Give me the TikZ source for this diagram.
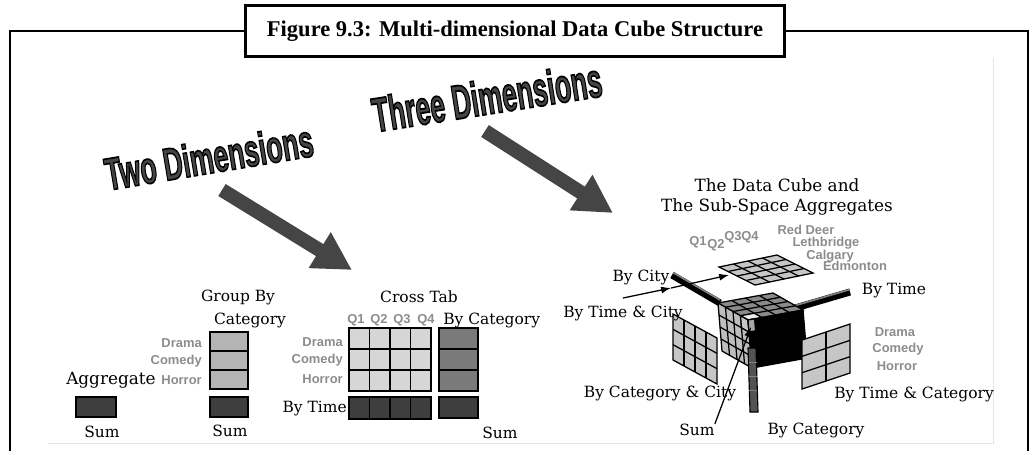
\documentclass[tikz,border=0pt]{standalone}
\usepackage{fontspec}
\setmainfont{DejaVu Serif}
\newfontfamily\lsans{Liberation Sans}
\newfontfamily\capfont{Liberation Serif}
\usepackage{tikz}
\usetikzlibrary{arrows.meta}
\definecolor{wordgray}{HTML}{454545}
\definecolor{dimgray}{HTML}{8C8C8C}
\definecolor{gbgray}{HTML}{B4B4B4}
\definecolor{ctgray}{HTML}{D6D6D6}
\definecolor{catgray}{HTML}{7A7A7A}
\definecolor{sumgray}{HTML}{3E3E3E}
\definecolor{planegray}{HTML}{C6C6C6}
\definecolor{topgray}{HTML}{8A8A8A}
\definecolor{sidegray}{HTML}{BEBEBE}
% outlined lettering: fill with the text colour, stroke in black
\newcommand{\outlined}[1]{\special{pdf:literal direct 0 G 0.7 w 2 Tr}#1\special{pdf:literal direct 0 Tr}}
\tikzset{
  frame/.style={line width=1.8pt},
  lbl/.style={font=\fontsize{11}{12}\selectfont, inner sep=0pt},
  biglbl/.style={font=\fontsize{12}{14.2}\selectfont, inner sep=0pt},
  dimlbl/.style={font=\lsans\bfseries\fontsize{9.2}{10}\selectfont, text=dimgray, inner sep=0pt},
  bigword/.style={font=\lsans\bfseries\fontsize{19}{22}\selectfont, text=wordgray, inner sep=0pt},
  fatarrow/.style={draw=wordgray, line width=10pt, -{Triangle[length=27pt 0, width=28pt 0]}},
  cell/.style={draw=black, line width=1.3pt},
  gridline/.style={draw=black, line width=0.9pt},
  ptr/.style={line width=0.9pt, -{Latex[length=7pt 0, width=5pt 0]}},
}

\begin{document}
\begin{tikzpicture}[x=0.025cm, y=-0.025cm]
  \useasboundingbox (0,0) rectangle (1033,450);
  % frame and caption
  \draw[gray!20] (993,58) -- (993,443) -- (48,443);
  \node[draw, frame, fill=white, minimum width=383pt, minimum height=36pt,
        font=\capfont\bfseries\fontsize{16}{18}\selectfont] (title) at (515,31)
        {Figure 9.3: Multi-dimensional Data Cube Structure};
  \draw[frame] (10,455) |- (title.west);
  \draw[frame] (title.east) -| (1028,455);

  % headings and fat arrows
  \node[bigword, rotate=9.5, yscale=1.7] (twodim) at (209,157) {\outlined{Two Dimensions}};
  \node[bigword, rotate=9, yscale=1.8] (threedim) at (487,97) {\outlined{Three Dimensions}};
  \coordinate (twotail) at (222,190);
  \coordinate (twotip) at (352,270);
  \coordinate (threetail) at (485,131);
  \coordinate (threetip) at (613,213);
  \draw[fatarrow] (twotail) -- (twotip);
  \draw[fatarrow] (threetail) -- (threetip);

  % aggregate
  \draw[cell, fill=sumgray] (76,397) rectangle (116,417);
  \node[lbl] (sumagg) at (102,432) {Sum};

  % group by
  \node[lbl] (grpby) at (238,297) {Group By};
  \node[lbl] (grpcat) at (250,320) {Category};
  \foreach \r in {0,1,2}
    \draw[cell, fill=gbgray] (210,{332+19*\r}) rectangle +(38,19);
  \draw[cell, fill=sumgray] (210,397) rectangle (248,417);
  \node[dimlbl, anchor=east] (gbdrama) at (202,343) {Drama};
  \node[dimlbl, anchor=east] (gbcomedy) at (202,361) {Comedy};
  \node[dimlbl, anchor=east] (gbhorror) at (202,380) {Horror};
  \node[lbl] (sumgb) at (230,431) {Sum};
  \node[biglbl] (aggr) at (111,380) {Aggregate};

  % cross tab
  \node[lbl] (crosstab) at (419,297) {Cross Tab};
  \foreach \q/\x in {1/356,2/379,3/402,4/426}
    \node[dimlbl] (q\q) at (\x,320) {Q\q};
  \foreach \c in {0,...,3} {
    \foreach \r in {0,1,2}
      \draw[cell, fill=ctgray] ({349+20.5*\c},{328+21*\r}) rectangle +(20.5,21);
    \draw[cell, fill=sumgray] ({349+20.5*\c},397) rectangle +(20.5,22);
  }
  \node[dimlbl, anchor=east] (ctdrama) at (343,342) {Drama};
  \node[dimlbl, anchor=east] (ctcomedy) at (343,360) {Comedy};
  \node[dimlbl, anchor=east] (cthorror) at (343,379) {Horror};
  \node[lbl, anchor=east] (bytime) at (347,409) {By Time};
  \foreach \r in {0,1,2}
    \draw[cell, fill=catgray] (439,{328+21*\r}) rectangle +(39,21);
  \draw[cell, fill=sumgray] (439,397) rectangle (478,418);
  \node[lbl, anchor=west] (bycat) at (443,320) {By Category};
  \node[lbl] (sumct) at (500,433) {Sum};

  % data cube labels
  \node[biglbl, align=center] (cubetitle) at (777,197) {The Data Cube and\\The Sub-Space Aggregates};
  \node[dimlbl] (cq1) at (698,242) {Q1};
  \node[dimlbl] (cq2) at (716,245) {Q2};
  \node[dimlbl] (cq3) at (733,237) {Q3};
  \node[dimlbl] (cq4) at (750,237) {Q4};
  \node[dimlbl] (reddeer) at (806,230) {Red Deer};
  \node[dimlbl] (lethbridge) at (826,243) {Lethbridge};
  \node[dimlbl] (calgary) at (830,256) {Calgary};
  \node[dimlbl] (edmonton) at (855,266) {Edmonton};
  \node[dimlbl] (cdrama) at (895,332) {Drama};
  \node[dimlbl] (ccomedy) at (898,349) {Comedy};
  \node[dimlbl] (chorror) at (897,366) {Horror};

  % sticks behind the cube
  \draw[line width=5pt] (672,275) -- (720,303);
  \draw[gray, line width=1.2pt] (673,272.5) -- (720,300);
  \draw[line width=5pt] (785,311) -- (850,292);
  \draw[gray, line width=1.2pt] (785,308.5) -- (850,289.5);

  % sub-space planes (unit vectors given in cm, 1px = 0.025cm)
  \begin{scope}[shift={(719,267)}, x={(1.45cm,0.30cm)}, y={(0.90cm,-0.45cm)}]
    \filldraw[fill=planegray, gridline] (0,0) -- (1,0) -- (1,1) -- (0,1) -- cycle;
    \foreach \i in {1,2,3} {
      \draw[gridline] (\i/4,0) -- (\i/4,1);
      \draw[gridline] (0,\i/4) -- (1,\i/4);
    }
  \end{scope}
  \begin{scope}[shift={(673,314)}, x={(1.10cm,-0.60cm)}, y={(0cm,-1.15cm)}]
    \filldraw[fill=planegray, gridline] (0,0) -- (1,0) -- (1,1) -- (0,1) -- cycle;
    \foreach \i in {1,2,3} \draw[gridline] (\i/4,0) -- (\i/4,1);
    \foreach \i in {1,2} \draw[gridline] (0,\i/3) -- (1,\i/3);
  \end{scope}

  % the cube
  \begin{scope}[shift={(748,320)}, x={(-0.75cm,0.425cm)}, y={(1.375cm,0.25cm)}]
    \filldraw[fill=topgray, gridline] (0,0) -- (1,0) -- (1,1) -- (0,1) -- cycle;
    \foreach \i in {1,2,3} {
      \draw[gridline] (\i/4,0) -- (\i/4,1);
      \draw[gridline] (0,\i/4) -- (1,\i/4);
    }
    \filldraw[fill=gray!15, gridline] (0,0) -- (0.25,0) -- (0.25,0.25) -- (0,0.25) -- cycle;
  \end{scope}
  \begin{scope}[shift={(748,320)}, x={(-0.75cm,0.425cm)}, y={(0.10cm,-1.20cm)}]
    \filldraw[fill=sidegray, gridline] (0,0) -- (1,0) -- (1,1) -- (0,1) -- cycle;
    \foreach \i in {1,2,3} {
      \draw[gridline] (\i/4,0) -- (\i/4,1);
      \draw[gridline] (0,\i/4) -- (1,\i/4);
    }
    \filldraw[fill=gray!45, gridline] (0,0) -- (0.25,0) -- (0.25,0.25) -- (0,0.25) -- cycle;
  \end{scope}
  \begin{scope}[shift={(748,320)}, x={(1.375cm,0.25cm)}, y={(0.10cm,-1.20cm)}]
    \filldraw[fill=black, gridline] (0,0) -- (1,0) -- (1,1) -- (0,1) -- cycle;
    \filldraw[fill=gray!70, gridline] (0,0) -- (0.12,0) -- (0.12,0.25) -- (0,0.25) -- cycle;
  \end{scope}
  \filldraw[fill=gray!65!black, line width=0.8pt] (748,348) -- (756,348) -- (758,412) -- (750,412) -- cycle;
  \foreach \y in {362,376,390}
    \draw[gray, line width=0.6pt] (749,\y) -- (757,\y);
  \begin{scope}[shift={(802,340)}, x={(1.20cm,0.40cm)}, y={(0cm,-1.225cm)}]
    \filldraw[fill=planegray, gridline] (0,0) -- (1,0) -- (1,1) -- (0,1) -- cycle;
    \draw[gridline] (0.5,0) -- (0.5,1);
    \foreach \i in {1,2} \draw[gridline] (0,\i/3) -- (1,\i/3);
  \end{scope}

  % cube axis labels and pointers
  \node[lbl] (bycity) at (641,277) {By City};
  \node[lbl] (bytimec) at (894,291) {By Time};
  \node[lbl] (bytimecity) at (623,313) {By Time \& City};
  \node[lbl] (bycatcity) at (660,393) {By Category \& City};
  \node[lbl] (bytimecat) at (914,394) {By Time \& Category};
  \node[lbl] (sumcube) at (697,430) {Sum};
  \node[lbl] (bycatcube) at (816,430) {By Category};
  \coordinate (tcA) at (623,298);
  \coordinate (tcB) at (671,288);
  \coordinate (tcC) at (729,275);
  \coordinate (sumcell) at (751,327);
  \draw[ptr] (tcA) -- (tcB);
  \draw[ptr] (tcB) -- (tcC);
  \draw[ptr] (sumcube.north east) -- (sumcell);
\end{tikzpicture}
\end{document}
